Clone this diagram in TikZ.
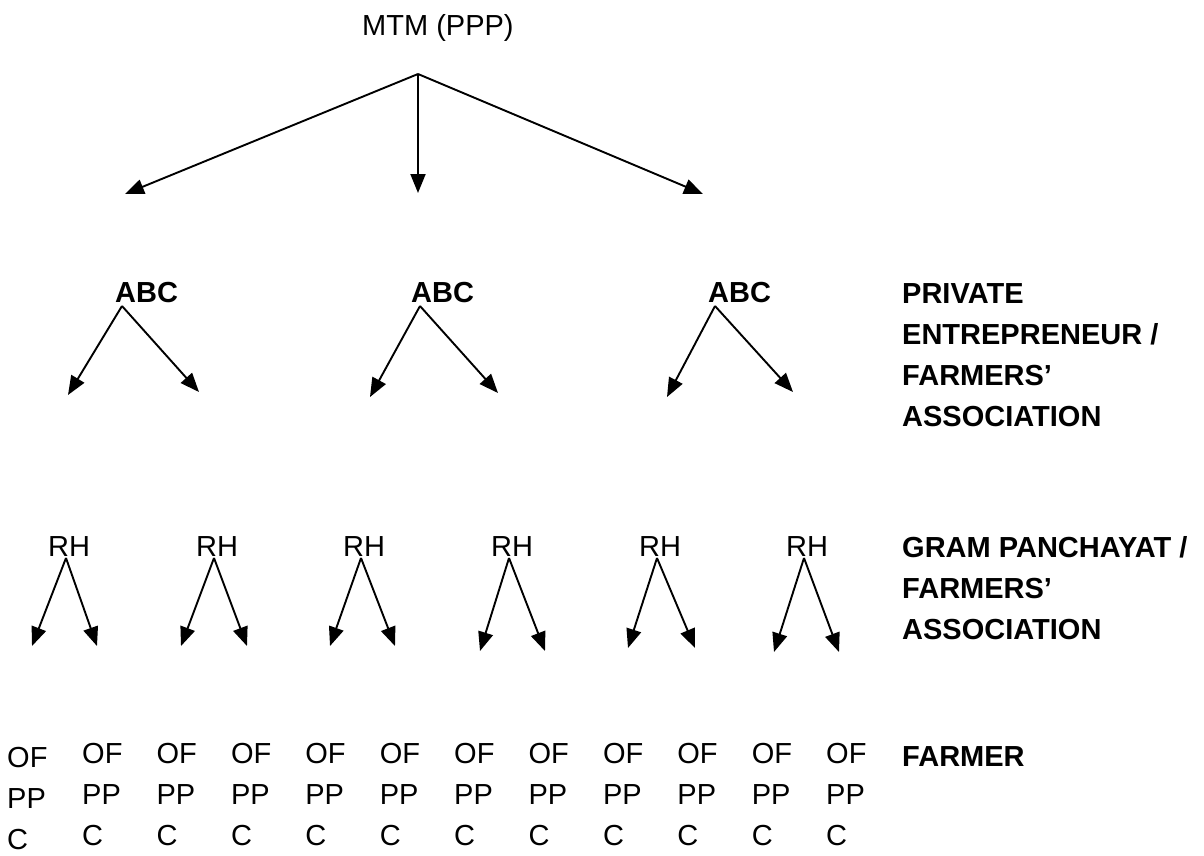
\documentclass[tikz,border=0pt]{standalone}
\usepackage{fontspec}
\setmainfont{Liberation Sans}
\usetikzlibrary{arrows.meta}

\begin{document}
\begin{tikzpicture}[x=1pt,y=1pt,yscale=-1,xscale=1,
    lbl/.style={inner sep=0pt,anchor=base west,align=left,font=\fontsize{29}{41}\selectfont},
    boldlbl/.style={lbl,font=\fontsize{29}{41}\selectfont\bfseries},
    arr/.style={line width=1.9pt,-{Triangle[length=19pt,width=15pt]}}]
    \useasboundingbox (0,0) rectangle (1204,855);

    % Text Node
    \node [lbl] (mtm) at (362,35) {MTM (PPP)};
    \coordinate (top) at (418,74);
    \coordinate (t1) at (125,194);
    \coordinate (t2) at (418,193);
    \coordinate (t3) at (703,194);
    %Straight Lines
    \draw [arr] (top) -- (t1);
    \draw [arr] (top) -- (t2);
    \draw [arr] (top) -- (t3);

    % Text Node (base is the last line)
    \node [boldlbl] (abc1) at (115,302) {ABC};
    \node [boldlbl] (abc2) at (411,302) {ABC};
    \node [boldlbl] (abc3) at (708,302) {ABC};
    \node [boldlbl] (pe) at (902,426) {PRIVATE\\ENTREPRENEUR /\\FARMERS’\\ASSOCIATION};
    \coordinate (abc1v) at (122,306);
    \coordinate (abc2v) at (420,306);
    \coordinate (abc3v) at (715,306);
    \coordinate (a1l) at (68,395);
    \coordinate (a1r) at (199,392);
    \coordinate (a2l) at (370,397);
    \coordinate (a2r) at (498,393);
    \coordinate (a3l) at (667,397);
    \coordinate (a3r) at (793,392);
    %Straight Lines
    \draw [arr] (abc1v) -- (a1l);
    \draw [arr] (abc1v) -- (a1r);
    \draw [arr] (abc2v) -- (a2l);
    \draw [arr] (abc2v) -- (a2r);
    \draw [arr] (abc3v) -- (a3l);
    \draw [arr] (abc3v) -- (a3r);

    % Text Node
    \node [lbl] (rh1) at (48,556) {RH};
    \node [lbl] (rh2) at (196,556) {RH};
    \node [lbl] (rh3) at (343,556) {RH};
    \node [lbl] (rh4) at (491,556) {RH};
    \node [lbl] (rh5) at (639,556) {RH};
    \node [lbl] (rh6) at (786,556) {RH};
    \node [boldlbl] (gp) at (902,639) {GRAM PANCHAYAT /\\FARMERS’\\ASSOCIATION};
    \coordinate (rh1v) at (66,558);
    \coordinate (rh2v) at (214,558);
    \coordinate (rh3v) at (361,558);
    \coordinate (rh4v) at (509,558);
    \coordinate (rh5v) at (657,558);
    \coordinate (rh6v) at (804,558);
    \coordinate (r1l) at (32,646);
    \coordinate (r1r) at (97,646);
    \coordinate (r2l) at (181,646);
    \coordinate (r2r) at (247,646);
    \coordinate (r3l) at (330,646);
    \coordinate (r3r) at (395,646);
    \coordinate (r4l) at (480,651);
    \coordinate (r4r) at (545,651);
    \coordinate (r5l) at (628,648);
    \coordinate (r5r) at (695,648);
    \coordinate (r6l) at (774,652);
    \coordinate (r6r) at (839,652);
    %Straight Lines
    \draw [arr] (rh1v) -- (r1l);
    \draw [arr] (rh1v) -- (r1r);
    \draw [arr] (rh2v) -- (r2l);
    \draw [arr] (rh2v) -- (r2r);
    \draw [arr] (rh3v) -- (r3l);
    \draw [arr] (rh3v) -- (r3r);
    \draw [arr] (rh4v) -- (r4l);
    \draw [arr] (rh4v) -- (r4r);
    \draw [arr] (rh5v) -- (r5l);
    \draw [arr] (rh5v) -- (r5r);
    \draw [arr] (rh6v) -- (r6l);
    \draw [arr] (rh6v) -- (r6r);

    % Text Node
    \node [lbl] (oppc1) at (7,849) {OF\\PP\\C};
    \node [lbl] (oppc2) at (82,845) {OF\\PP\\C};
    \node [lbl] (oppc3) at (156.4,845) {OF\\PP\\C};
    \node [lbl] (oppc4) at (230.8,845) {OF\\PP\\C};
    \node [lbl] (oppc5) at (305.2,845) {OF\\PP\\C};
    \node [lbl] (oppc6) at (379.6,845) {OF\\PP\\C};
    \node [lbl] (oppc7) at (454,845) {OF\\PP\\C};
    \node [lbl] (oppc8) at (528.4,845) {OF\\PP\\C};
    \node [lbl] (oppc9) at (602.8,845) {OF\\PP\\C};
    \node [lbl] (oppc10) at (677.2,845) {OF\\PP\\C};
    \node [lbl] (oppc11) at (751.6,845) {OF\\PP\\C};
    \node [lbl] (oppc12) at (826,845) {OF\\PP\\C};
    \node [boldlbl] (farmer) at (902,766) {FARMER};

\end{tikzpicture}
\end{document}
